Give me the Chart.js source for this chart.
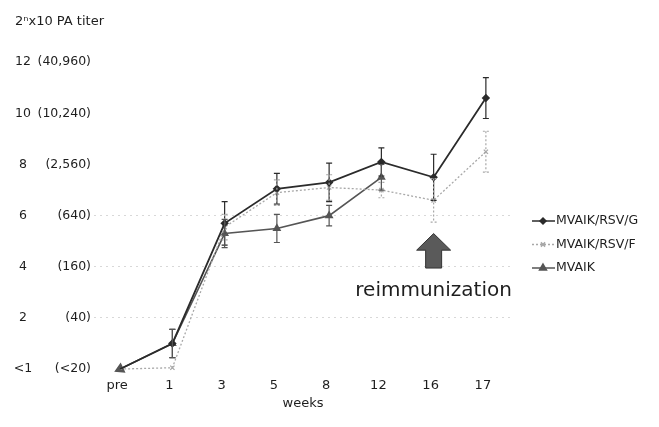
<!DOCTYPE html>
<html>
<head>
<meta charset="utf-8">
<script src="https://cdn.jsdelivr.net/npm/chart.js@4.4.0/dist/chart.umd.min.js"></script>
<style>
    html, body { margin: 0; padding: 0; background: #fff; }
    #wrap { width: 659px; height: 427px; position: relative; }
</style>
</head>
<body>
<div id="wrap"><canvas id="titer-chart"></canvas></div>
<script>
    // x categories (weeks)
    const weeks = ['pre', '1', '3', '5', '8', '12', '16', '17'];

    // log2 titer values
    const rsvG = [0, 1, 5.7, 7.05, 7.3, 8.1, 7.5, 10.6];
    const rsvGErr = [null, 0.55, 0.85, 0.6, 0.75, 0.55, 0.9, 0.8];

    const rsvF = [0, 0.05, 5.55, 6.9, 7.1, 7.0, 6.6, 8.5];
    const rsvFErr = [null, null, 0.5, 0.5, 0.5, 0.3, 0.85, 0.8];

    const mvaik = [0, 1, 5.3, 5.5, 6.0, 7.5, null, null];
    const mvaikErr = [null, 0.55, 0.55, 0.55, 0.4, 0.5, null, null];

    // y axis tick labels (two columns)
    const yTickValues = [12, 10, 8, 6, 4, 2, 0];
    const yTickNums = ['12', '10', '8', '6', '4', '2', '<1'];
    const yTickTiters = ['(40,960)', '(10,240)', '(2,560)', '(640)', '(160)', '(40)', '(<20)'];

    const seriesNames = ['MVAIK/RSV/G', 'MVAIK/RSV/F', 'MVAIK'];

    const FONT = '"DejaVu Sans", sans-serif';

    const series = [
        { vals: rsvG, err: rsvGErr, color: '#2b2b2b', dash: [] },
        { vals: rsvF, err: rsvFErr, color: '#a8a8a8', dash: [2, 2] },
        { vals: mvaik, err: mvaikErr, color: '#555', dash: [] }
    ];

    // error bars, axis labels, reimmunization arrow, legend
    const extrasPlugin = {
        id: 'extras',
        afterDatasetsDraw(chart) {
            const ctx = chart.ctx;
            const x = chart.scales.x;
            const y = chart.scales.y;
            ctx.save();

            series.forEach(s => {
                ctx.strokeStyle = s.color;
                ctx.lineWidth = 1.2;
                ctx.setLineDash(s.dash);
                s.err.forEach((e, i) => {
                    if (e == null || s.vals[i] == null) return;
                    const px = x.getPixelForValue(i);
                    const top = y.getPixelForValue(s.vals[i] + e);
                    const bot = y.getPixelForValue(s.vals[i] - e);
                    ctx.beginPath();
                    ctx.moveTo(px, top); ctx.lineTo(px, bot);
                    ctx.moveTo(px - 3, top); ctx.lineTo(px + 3, top);
                    ctx.moveTo(px - 3, bot); ctx.lineTo(px + 3, bot);
                    ctx.stroke();
                });
            });
            ctx.setLineDash([]);

            // reimmunization arrow at week 16
            const ax = x.getPixelForValue(6);
            const aTop = y.getPixelForValue(5.3);
            const aMid = y.getPixelForValue(4.65);
            const aBot = y.getPixelForValue(3.95);
            ctx.fillStyle = '#5a5a5a';
            ctx.strokeStyle = '#333';
            ctx.lineWidth = 1;
            ctx.beginPath();
            ctx.moveTo(ax, aTop);
            ctx.lineTo(ax + 17, aMid);
            ctx.lineTo(ax + 8, aMid);
            ctx.lineTo(ax + 8, aBot);
            ctx.lineTo(ax - 8, aBot);
            ctx.lineTo(ax - 8, aMid);
            ctx.lineTo(ax - 17, aMid);
            ctx.closePath();
            ctx.fill();
            ctx.stroke();

            ctx.fillStyle = '#1e1e1e';
            ctx.font = '20px ' + FONT;
            ctx.textAlign = 'center';
            ctx.textBaseline = 'middle';
            ctx.fillText('reimmunization', ax, y.getPixelForValue(3.05));

            // y tick labels
            ctx.font = '12.5px ' + FONT;
            yTickValues.forEach((v, i) => {
                const py = y.getPixelForValue(v);
                ctx.textAlign = 'center';
                ctx.fillText(yTickNums[i], 23, py);
                ctx.textAlign = 'right';
                ctx.fillText(yTickTiters[i], 91, py);
            });

            // x tick labels and title
            ctx.font = '13px ' + FONT;
            ctx.textAlign = 'center';
            weeks.forEach((w, i) => {
                ctx.fillText(w, x.getPixelForValue(i) - 3, chart.chartArea.bottom + 8);
            });
            ctx.fillText('weeks', (chart.chartArea.left + chart.chartArea.right) / 2, chart.chartArea.bottom + 26);

            // axis title
            ctx.textAlign = 'left';
            ctx.font = '13px ' + FONT;
            ctx.fillText('2\u207Fx10 PA titer', 15, 22);

            // legend
            const pointStyles = [
                { style: 'rectRot', r: 3 },
                { style: 'crossRot', r: 3 },
                { style: 'triangle', r: 4 }
            ];
            ctx.font = '12.5px ' + FONT;
            seriesNames.forEach((name, i) => {
                const ly = 221 + i * 23.5;
                const s = series[i];
                ctx.strokeStyle = s.color;
                ctx.fillStyle = s.color;
                ctx.lineWidth = 1.5;
                ctx.setLineDash(s.dash);
                ctx.beginPath();
                ctx.moveTo(532, ly); ctx.lineTo(555, ly);
                ctx.stroke();
                ctx.setLineDash([]);
                Chart.helpers.drawPoint(ctx, {
                    pointStyle: pointStyles[i].style,
                    radius: pointStyles[i].r,
                    rotation: 0,
                    borderWidth: 1
                }, 543, ly);
                ctx.fillStyle = '#1e1e1e';
                ctx.textAlign = 'left';
                ctx.fillText(name, 556, ly);
            });

            ctx.restore();
        }
    };

    new Chart(document.getElementById('titer-chart'), {
        type: 'line',
        data: {
            labels: weeks,
            datasets: [
                {
                    label: seriesNames[0],
                    data: rsvG,
                    borderColor: series[0].color,
                    backgroundColor: series[0].color,
                    borderWidth: 1.8,
                    pointStyle: 'rectRot',
                    pointRadius: [0, 3, 3, 3, 3, 3, 3, 3],
                    tension: 0
                },
                {
                    label: seriesNames[1],
                    data: rsvF,
                    borderColor: series[1].color,
                    backgroundColor: series[1].color,
                    borderWidth: 1.3,
                    borderDash: [2, 2],
                    pointStyle: 'crossRot',
                    pointRadius: [0, 3, 3, 3, 3, 3, 3, 3],
                    tension: 0
                },
                {
                    label: seriesNames[2],
                    data: mvaik,
                    borderColor: series[2].color,
                    backgroundColor: series[2].color,
                    borderWidth: 1.6,
                    pointStyle: 'triangle',
                    pointRadius: [5, 3.5, 3.5, 3.5, 3.5, 3.5, 3.5, 3.5],
                    pointRotation: [245, 0, 0, 0, 0, 0, 0, 0],
                    tension: 0
                }
            ]
        },
        options: {
            responsive: true,
            maintainAspectRatio: false,
            animation: false,
            layout: {
                padding: { left: 94, right: 147, top: 52, bottom: 41 }
            },
            plugins: {
                legend: { display: false },
                tooltip: { enabled: false }
            },
            scales: {
                x: {
                    offset: true,
                    grid: { display: false },
                    border: { display: false },
                    ticks: { display: false }
                },
                y: {
                    min: -0.35,
                    max: 12.4,
                    border: { display: false, dash: [2, 4] },
                    grid: {
                        color: c => (c.tick && c.tick.value >= 0 && c.tick.value <= 6 && c.tick.value % 2 === 0) ? '#d8d8d8' : 'rgba(0,0,0,0)',
                        drawTicks: false,
                        lineWidth: 1
                    },
                    ticks: {
                        display: false,
                        stepSize: 2
                    }
                }
            }
        },
        plugins: [extrasPlugin]
    });
</script>
</body>
</html>
